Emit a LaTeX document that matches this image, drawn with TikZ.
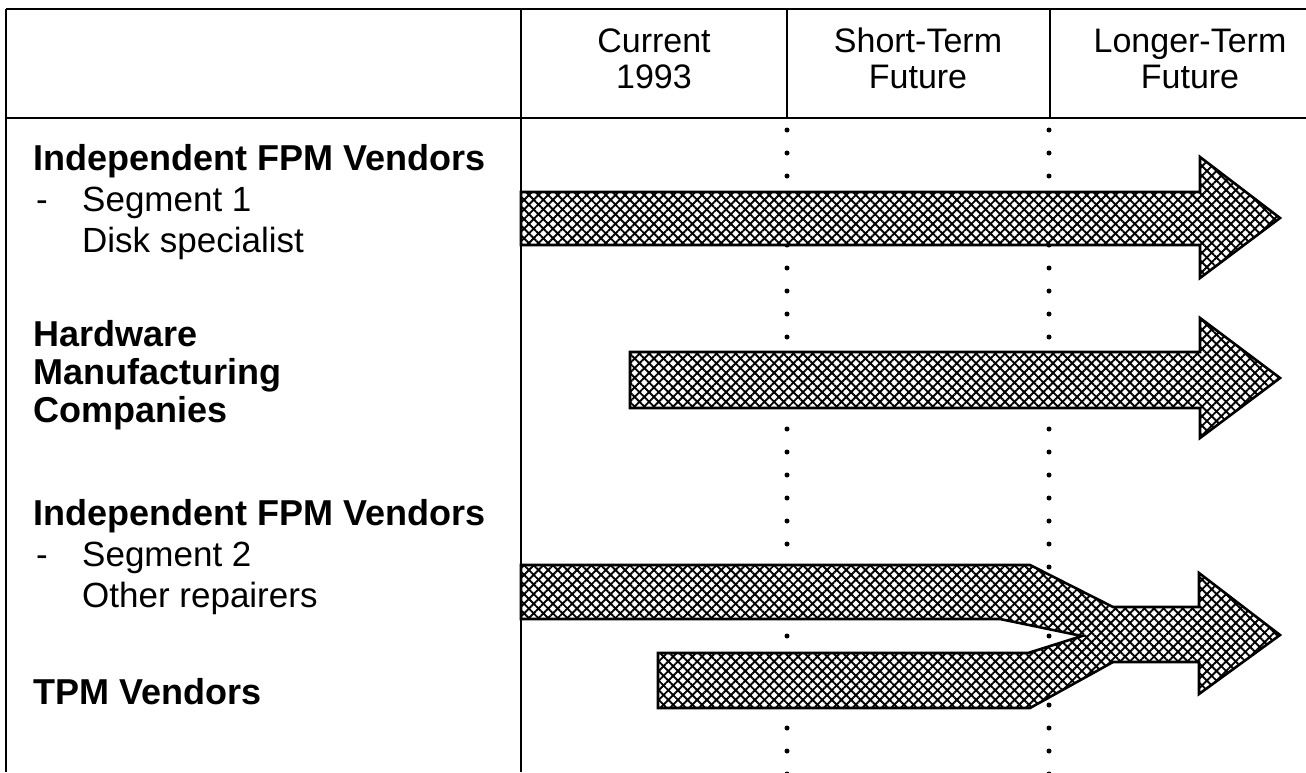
\documentclass[tikz,border=0pt]{standalone}
\usepackage{fontspec}
\setmainfont{Liberation Sans}
\usetikzlibrary{patterns.meta}
\begin{document}
\begin{tikzpicture}[x=1pt,y=-1pt,
  rule/.style={line width=2pt, draw=black},
  dotline/.style={line width=5pt, line cap=round, dash pattern=on 0pt off 23pt},
  hatch/.style={fill=white, draw=black, line width=2.6pt, line join=miter,
    postaction={pattern={Lines[angle=45,distance=6.8pt,line width=1.9pt]}},
    postaction={pattern={Lines[angle=-45,distance=6.8pt,line width=1.9pt]}}},
  head/.style={inner sep=0pt, anchor=base, font=\fontsize{34}{36}\selectfont},
  group/.style={inner sep=0pt, anchor=base west, font=\fontsize{36}{40}\selectfont\bfseries},
  sub/.style={inner sep=0pt, anchor=base west, font=\fontsize{35}{40}\selectfont}]
\useasboundingbox (0,0) rectangle (1306,772);
\fill[white] (0,0) rectangle (1306,772);

% table frame
\draw[rule] (6,9) -- (1306,9);
\draw[rule] (6,118) -- (1306,118);
\draw[rule] (6,9) -- (6,772);
\draw[rule] (521,9) -- (521,772);
\draw[rule] (787,9) -- (787,118);
\draw[rule] (1050,9) -- (1050,118);

% period separators
\draw[dotline] (787,130) -- (787,780);
\draw[dotline] (1049,130) -- (1049,780);

% column headings
\node[head] (cur1) at (654,52) {Current};
\node[head] (cur2) at (654,88) {1993};
\node[head] (st1) at (918,52) {Short-Term};
\node[head] (st2) at (918,88) {Future};
\node[head] (lt1) at (1190,52) {Longer-Term};
\node[head] (lt2) at (1190,88) {Future};

% row labels
\node[group] (ifpm1) at (33,170) {Independent FPM Vendors};
\node[sub] (dash1) at (36,211) {-};
\node[sub] (seg1) at (82,211) {Segment 1};
\node[sub] (disk) at (82,252) {Disk specialist};

\node[group] (hw1) at (33,346) {Hardware};
\node[group] (hw2) at (33,384) {Manufacturing};
\node[group] (hw3) at (33,422) {Companies};

\node[group] (ifpm2) at (33,525) {Independent FPM Vendors};
\node[sub] (dash2) at (36,566) {-};
\node[sub] (seg2) at (82,566) {Segment 2};
\node[sub] (other) at (82,607) {Other repairers};

\node[group] (tpm) at (33,704) {TPM Vendors};

% trend arrows
\path[hatch] (521,192) -- (1200,192) -- (1200,157) -- (1280,218)
  -- (1200,278) -- (1200,245) -- (521,245) -- cycle;
\path[hatch] (630,352) -- (1200,352) -- (1200,318) -- (1280,378)
  -- (1200,438) -- (1200,408) -- (630,408) -- cycle;
\path[hatch] (521,565) -- (1030,565) -- (1113,607) -- (1199,607) -- (1199,573)
  -- (1280,635) -- (1199,694) -- (1199,662) -- (1113,662) -- (1030,708)
  -- (658,708) -- (658,653) -- (1028,653) -- (1082,636) -- (1000,619)
  -- (521,619) -- cycle;
\end{tikzpicture}
\end{document}
